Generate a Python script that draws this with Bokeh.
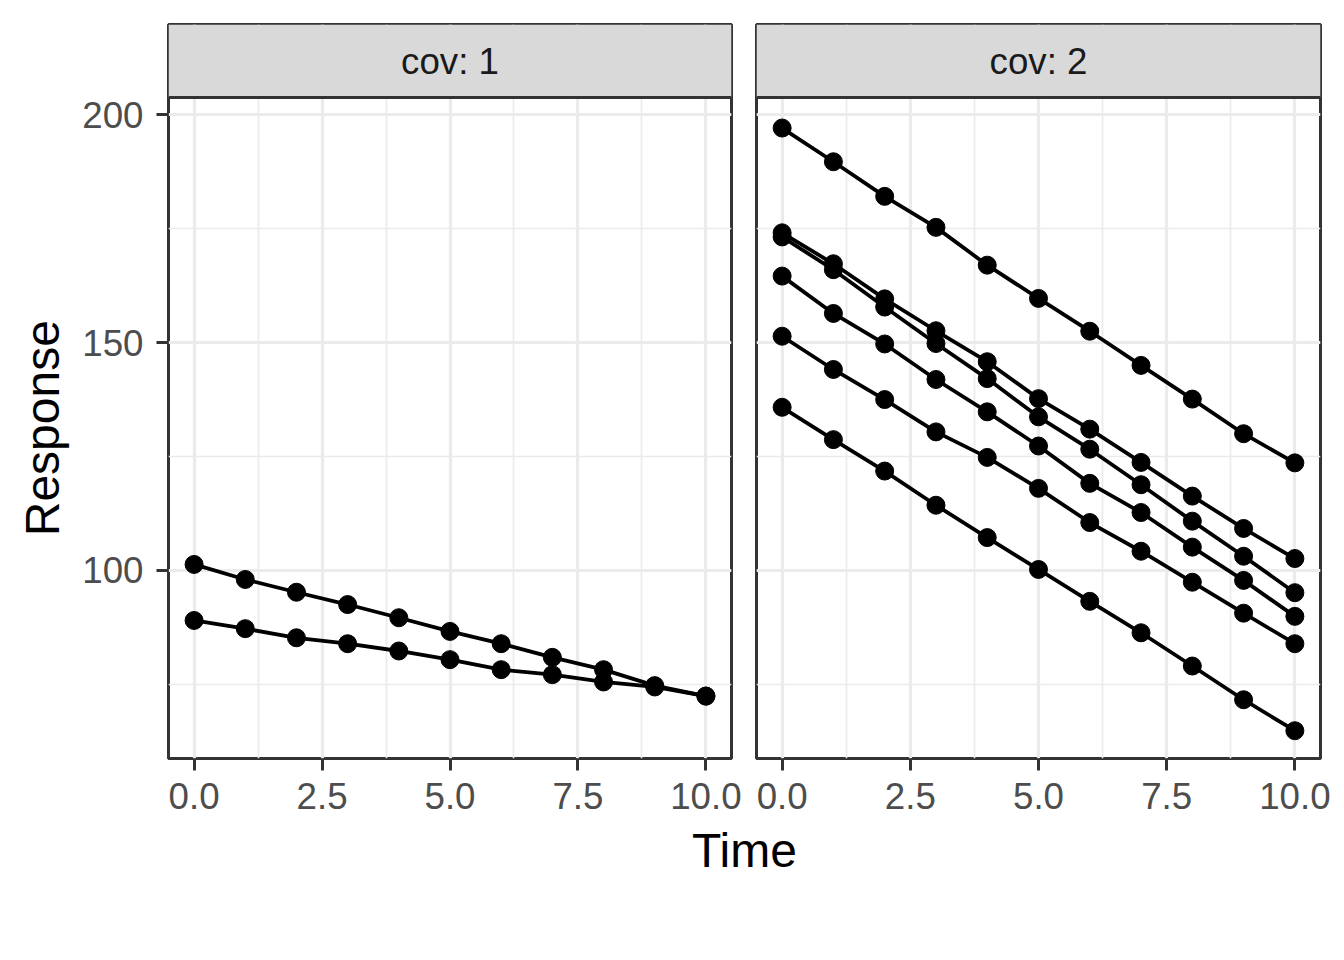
import math
from bokeh.plotting import figure
from bokeh.layouts import column, row
from bokeh.models import FixedTicker, BoxAnnotation, Span, Label, NumeralTickFormatter, Range1d
from bokeh.core.properties import value
from bokeh.embed import file_html
from bokeh.resources import INLINE

# ---- data ----
time = [0, 1, 2, 3, 4, 5, 6, 7, 8, 9, 10]

cov1_s1 = [101.3, 98.0, 95.2, 92.5, 89.6, 86.6, 83.9, 80.9, 78.2, 74.7, 72.4]
cov1_s2 = [89.0, 87.2, 85.2, 83.9, 82.3, 80.4, 78.2, 77.1, 75.5, 74.4, 72.4]

cov2_s1 = [197.1, 189.7, 182.1, 175.3, 167.0, 159.7, 152.5, 145.0, 137.6, 130.0, 123.6]
cov2_s2 = [174.1, 167.3, 159.6, 152.6, 145.8, 137.7, 131.0, 123.7, 116.3, 109.2, 102.6]
cov2_s3 = [173.2, 166.0, 157.8, 149.8, 142.1, 133.7, 126.6, 118.8, 110.8, 103.1, 95.1]
cov2_s4 = [164.6, 156.4, 149.7, 141.9, 134.8, 127.3, 119.1, 112.7, 105.1, 97.8, 89.9]
cov2_s5 = [151.4, 144.1, 137.5, 130.4, 124.8, 118.0, 110.5, 104.2, 97.4, 90.6, 83.9]
cov2_s6 = [135.8, 128.7, 121.8, 114.3, 107.2, 100.2, 93.2, 86.3, 79.0, 71.6, 64.8]

panel_labels = ["cov: 1", "cov: 2"]
panel_series = [[cov1_s1, cov1_s2],
                [cov2_s1, cov2_s2, cov2_s3, cov2_s4, cov2_s5, cov2_s6]]

x_ticks = [0, 2.5, 5, 7.5, 10]
x_minor = [1.25, 3.75, 6.25, 8.75]
y_ticks = [100, 150, 200]
y_minor = [75, 125, 175]

# ---- layout / style ----
X_LO, X_HI = -0.5, 10.5
Y_LO, Y_HI = 58.7, 219.83
STRIP_BOTTOM = 203.8
FONT = "Liberation Sans"
TICK_FS = "36.7px"
TITLE_FS = "48px"
BORDER = "#333333"

panels = []
for i, (label, series) in enumerate(zip(panel_labels, panel_series)):
    first = i == 0
    p = figure(
        width=668 if first else 591,
        height=820,
        x_range=Range1d(X_LO, X_HI),
        y_range=Range1d(Y_LO, Y_HI),
        output_backend="svg",
        toolbar_location=None,
        min_border_left=93 if first else 13,
        min_border_right=12 if first else 14,
        min_border_top=24,
        min_border_bottom=62,
    )
    p.background_fill_color = "white"
    p.border_fill_color = "white"
    p.outline_line_color = BORDER
    p.outline_line_width = 3

    p.xaxis.ticker = FixedTicker(ticks=x_ticks, minor_ticks=x_minor)
    p.yaxis.ticker = FixedTicker(ticks=y_ticks, minor_ticks=y_minor)
    p.xaxis.formatter = NumeralTickFormatter(format="0.0")

    for ax in (p.xaxis, p.yaxis):
        ax.axis_line_color = None
        ax.major_tick_line_color = BORDER
        ax.major_tick_line_width = 3
        ax.major_tick_out = 12
        ax.major_tick_in = 0
        ax.minor_tick_line_color = None
        ax.major_label_text_font = FONT
        ax.major_label_text_font_size = TICK_FS
        ax.major_label_text_color = "#4D4D4D"
    p.xaxis.major_label_standoff = 12
    p.yaxis.major_label_standoff = 13
    if not first:
        p.yaxis.visible = False

    for g in (p.xgrid, p.ygrid):
        g.grid_line_color = "#EBEBEB"
        g.grid_line_width = 3.2
        g.minor_grid_line_color = "#EBEBEB"
        g.minor_grid_line_width = 1.7

    for ys in series:
        p.line(time, ys, line_color="black", line_width=3.8)
        p.scatter(time, ys, size=18, fill_color="black", line_color="black")

    # facet strip
    p.add_layout(BoxAnnotation(bottom=STRIP_BOTTOM, top=Y_HI, fill_color="#D9D9D9",
                               fill_alpha=1.0, line_color=None))
    p.add_layout(Span(location=STRIP_BOTTOM, dimension="width", line_color=BORDER,
                      line_width=3))
    p.add_layout(Label(x=(X_LO + X_HI) / 2, y=(STRIP_BOTTOM + Y_HI) / 2, text=label,
                       text_align="center", text_baseline="middle",
                       text_font=FONT, text_font_size=TICK_FS, text_color="#1A1A1A"))
    panels.append(p)

# y-axis title figure (centred on the panel area, below the strips)
r = figure(width=75, height=820, x_range=Range1d(0, 75), y_range=Range1d(0, 820),
           output_backend="svg", toolbar_location=None,
           min_border_left=0, min_border_right=0, min_border_top=0, min_border_bottom=0)
r.outline_line_color = None
r.axis.visible = False
r.grid.visible = False
r.text(x=[42], y=[369], text=["Response"], angle=math.pi / 2, text_align="center",
       text_baseline="middle", text_font=value(FONT), text_font_size=TITLE_FS,
       text_color="black")

# x-axis title figure
t = figure(width=1334, height=100, x_range=Range1d(0, 1334), y_range=Range1d(0, 100),
           output_backend="svg", toolbar_location=None,
           min_border_left=0, min_border_right=0, min_border_top=0, min_border_bottom=0)
t.outline_line_color = None
t.axis.visible = False
t.grid.visible = False
t.text(x=[744], y=[70], text=["Time"], text_align="center", text_baseline="alphabetic",
       text_font=value(FONT), text_font_size=TITLE_FS, text_color="black")

layout = column(row(r, panels[0], panels[1]), t)

open("out.html", "w").write(file_html(layout, INLINE))
